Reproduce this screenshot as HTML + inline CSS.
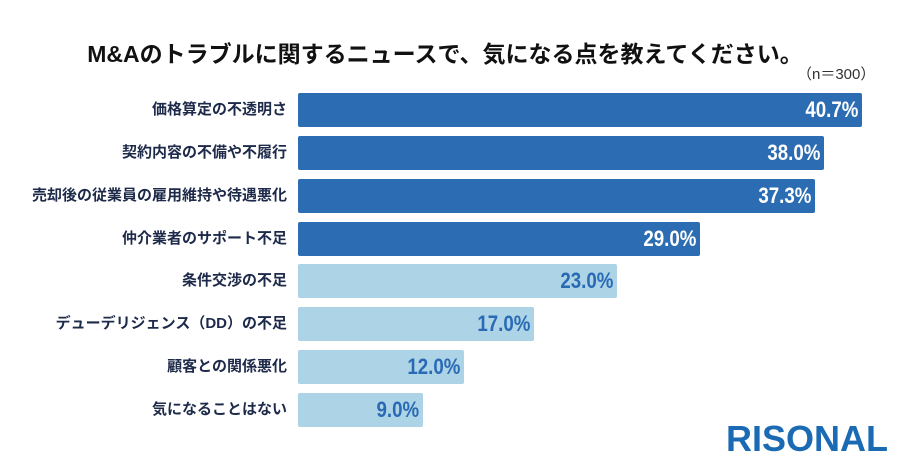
<!DOCTYPE html>
<html><head><meta charset="utf-8"><style>
body{margin:0;width:904px;height:472px;background:#fff;position:relative;overflow:hidden;font-family:"Liberation Sans","Noto Sans CJK JP",sans-serif}
.t{position:absolute;left:0;width:890px;top:35px;text-align:center;font-size:23px;font-weight:bold;color:#111;white-space:nowrap}
.n{position:absolute;left:797px;top:63px;font-size:15px;color:#333}
.l{position:absolute;right:617px;font-size:15px;font-weight:bold;color:#1e2a4a;line-height:34px;white-space:nowrap}
.b{position:absolute;left:298px;height:34px;border-radius:2px;box-sizing:border-box;text-align:right;padding-right:4px;font-size:22px;font-weight:bold;line-height:34px}
.b span{display:inline-block;transform:scaleX(0.85);transform-origin:right}
.d{background:#2b6cb3;color:#fff}.w{background:#acd3e6;color:#2a6ab5}
.logo{position:absolute;left:726px;top:418px;font-size:36px;font-weight:bold;color:#1a6bb3}
</style></head><body>
<div class="t">M&amp;Aのトラブルに関するニュースで、気になる点を教えてください。</div>
<div class="n">（n＝300）</div>
<div class="l" style="top:93px">価格算定の不透明さ</div><div class="b d" style="top:93px;width:564px"><span>40.7%</span></div>
<div class="l" style="top:136px">契約内容の不備や不履行</div><div class="b d" style="top:136px;width:526px"><span>38.0%</span></div>
<div class="l" style="top:179px">売却後の従業員の雇用維持や待遇悪化</div><div class="b d" style="top:179px;width:517px"><span>37.3%</span></div>
<div class="l" style="top:222px">仲介業者のサポート不足</div><div class="b d" style="top:222px;width:402px"><span>29.0%</span></div>
<div class="l" style="top:264px">条件交渉の不足</div><div class="b w" style="top:264px;width:319px"><span>23.0%</span></div>
<div class="l" style="top:307px">デューデリジェンス（DD）の不足</div><div class="b w" style="top:307px;width:236px"><span>17.0%</span></div>
<div class="l" style="top:350px">顧客との関係悪化</div><div class="b w" style="top:350px;width:166px"><span>12.0%</span></div>
<div class="l" style="top:393px">気になることはない</div><div class="b w" style="top:393px;width:125px"><span>9.0%</span></div>
<div class="logo">RISONAL</div>
</body></html>
